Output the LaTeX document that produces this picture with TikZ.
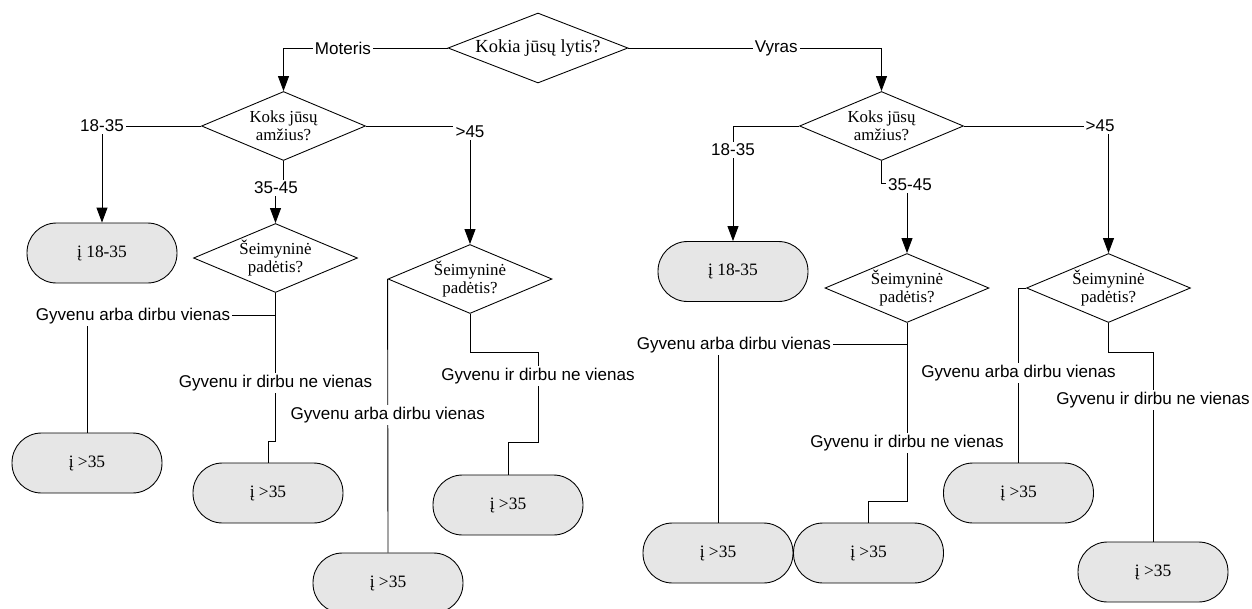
\documentclass[tikz,border=0pt]{standalone}
\usepackage{fontspec}
\setmainfont{Liberation Serif}
\setsansfont{Liberation Sans}
\usetikzlibrary{shapes.geometric,arrows.meta}
\definecolor{termgray}{HTML}{E6E6E6}
\begin{document}
\begin{tikzpicture}[x=0.02cm,y=-0.02cm,
 dec/.style={diamond, draw, line width=0.5pt, inner sep=0pt, aspect=2.38, minimum width=3.28cm, minimum height=1.38cm, align=center, font=\fontsize{9.6}{10.5}\selectfont},
 term/.style={rectangle, draw, line width=0.5pt, fill=termgray, rounded corners=0.59cm, minimum width=3cm, minimum height=1.2cm, font=\fontsize{9.9}{11}\selectfont},
 conn/.style={line width=0.5pt},
 arr/.style={conn, -{Triangle[length=0.3cm, width=0.22cm]}},
 lbl/.style={fill=white, inner sep=1.2pt, font=\sffamily\fontsize{9.7}{11}\selectfont}]
\useasboundingbox (0,0) rectangle (1252,609);

% decisions
\node[dec, aspect=2.57, minimum width=3.6cm, minimum height=1.4cm, font=\fontsize{10.5}{12}\selectfont] (q0) at (538,48) {Kokia jūsų lytis?};
\node[dec] (qa1) at (283.5,126) {Koks jūsų\\amžius?};
\node[dec] (qa2) at (881.5,126) {Koks jūsų\\amžius?};
\node[dec] (qs1) at (275.5,258) {Šeimyninė\\padėtis?};
\node[dec] (qs2) at (470,279) {Šeimyninė\\padėtis?};
\node[dec] (qs3) at (907,288) {Šeimyninė\\padėtis?};
\node[dec] (qs4) at (1108.5,288) {Šeimyninė\\padėtis?};

% terminals
\node[term] (t1) at (102,253) {į 18-35};
\node[term] (t2) at (87,463) {į >35};
\node[term] (t3) at (268,493) {į >35};
\node[term] (t4) at (388,583) {į >35};
\node[term] (t5) at (508,505) {į >35};
\node[term] (t6) at (733,271.5) {į 18-35};
\node[term] (t7) at (718,553) {į >35};
\node[term] (t8) at (868.5,553) {į >35};
\node[term] (t9) at (1018.5,493) {į >35};
\node[term] (t10) at (1153,572) {į >35};

% gender
\draw[arr] (q0.west) -| node[lbl, pos=0.319] {Moteris} (qa1.north);
\draw[arr] (q0.east) -| node[lbl, pos=0.292] {Vyras} (qa2.north);

% left age
\draw[arr] (qa1.west) -| node[lbl, pos=0.5] {18-35} (t1.north);
\draw[arr] (qa1.south) -- ++(0,28) -| (qs1.north);
\node[lbl] (l1) at (276,188) {35-45};
\draw[arr] (qa1.east) -| node[lbl, pos=0.5, yshift=-0.12cm] {>45} (qs2.north);

% right age
\draw[arr] (qa2.west) -| node[lbl, pos=0.604] {18-35} (t6.north);
\draw[arr] (qa2.south) -- ++(0,23) -| (qs3.north);
\node[lbl] (l2) at (910,185) {35-45};
\draw[arr] (qa2.east) -| node[lbl, pos=0.471] {>45} (qs4.north);

% family status, left
\draw[conn] (qs1.south) -- ++(0,23) -| node[lbl, pos=0.378] {Gyvenu arba dirbu vienas} (t2.north);
\draw[conn] (qs1.south) -- node[lbl, pos=0.608] {Gyvenu ir dirbu ne vienas} ++(0,148) -| (t3.north);
\draw[conn] (qs2.west) -- node[lbl, pos=0.496] {Gyvenu arba dirbu vienas} (t4.north);
\draw[conn] (qs2.south) -- ++(0,39) -- ++(68,0) -- node[lbl, pos=0.258] {Gyvenu ir dirbu ne vienas} ++(0,89) -| (t5.north);

% family status, right
\draw[conn] (qs3.south) -- ++(0,22) -| node[lbl, pos=0.458] {Gyvenu arba dirbu vienas} (t7.north);
\draw[conn] (qs3.south) -- node[lbl, pos=0.674] {Gyvenu ir dirbu ne vienas} ++(0,178) -| (t8.north);
\draw[conn] (qs4.west) -| node[lbl, pos=0.743] {Gyvenu arba dirbu vienas} (t9.north);
\draw[conn] (qs4.south) -- ++(0,30) -| node[lbl, pos=0.624] {Gyvenu ir dirbu ne vienas} (t10.north);
\end{tikzpicture}
\end{document}
